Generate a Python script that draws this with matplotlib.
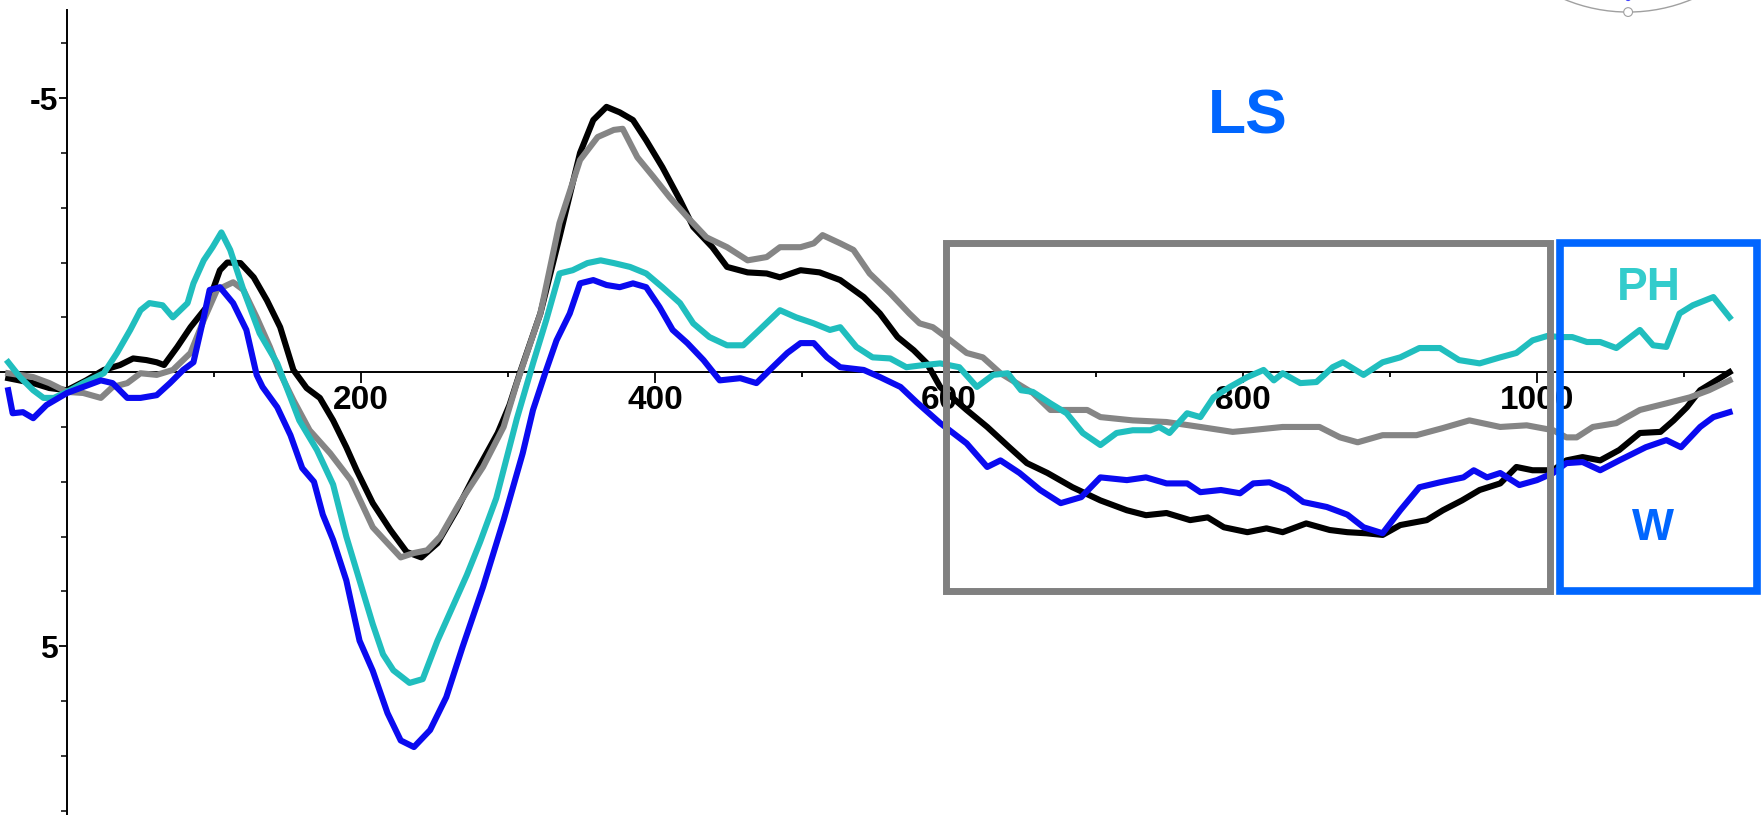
import matplotlib
matplotlib.use("Agg")
import matplotlib.pyplot as plt
from matplotlib.patches import Rectangle, Ellipse

plt.rcParams['font.family'] = ['Liberation Sans', 'DejaVu Sans']

# ---------------- data (time in ms, amplitude in microvolts, negative up) ----------------
t_black = [-40, -23, -12, 0, 13, 25, 36, 45, 54, 61, 66, 75, 84, 95, 104, 109, 118, 127, 136, 145,
           154, 163, 172, 181, 190, 197, 208, 220, 231, 241, 252, 265, 279, 293, 301, 308, 322, 335,
           349, 358, 367, 376, 385, 394, 405, 417, 426, 439, 449, 463, 476, 485, 499, 512, 526, 542,
           553, 565, 576, 585, 594, 612, 626, 641, 653, 667, 684, 703, 721, 734, 748, 764, 776, 787,
           803, 816, 827, 843, 859, 871, 884, 895, 907, 925, 936, 949, 961, 975, 986, 997, 1011,
           1020, 1031, 1043, 1056, 1070, 1084, 1093, 1102, 1111, 1122, 1131]
v_black = [0.11, 0.2, 0.29, 0.33, 0.15, -0.04, -0.13, -0.25, -0.22, -0.18, -0.13, -0.46, -0.82, -1.19,
           -1.86, -2.0, -1.99, -1.73, -1.31, -0.82, -0.04, 0.29, 0.47, 0.88, 1.37, 1.79, 2.39, 2.88,
           3.28, 3.38, 3.12, 2.52, 1.79, 1.11, 0.6, 0.02, -1.07, -2.46, -4.0, -4.6, -4.84, -4.74,
           -4.6, -4.23, -3.74, -3.14, -2.65, -2.28, -1.92, -1.82, -1.8, -1.73, -1.86, -1.82, -1.68,
           -1.37, -1.07, -0.64, -0.4, -0.16, 0.27, 0.69, 1.0, 1.37, 1.66, 1.84, 2.1, 2.34, 2.52, 2.61,
           2.57, 2.7, 2.65, 2.83, 2.92, 2.85, 2.92, 2.76, 2.88, 2.92, 2.94, 2.97, 2.79, 2.7, 2.52,
           2.34, 2.15, 2.03, 1.73, 1.79, 1.79, 1.61, 1.55, 1.61, 1.42, 1.11, 1.09, 0.88, 0.64, 0.33,
           0.15, 0.0]

t_gray = [-40, -23, -12, 0, 11, 23, 31, 41, 50, 61, 72, 84, 93, 102, 113, 120, 129, 138, 145, 154,
          165, 179, 193, 208, 218, 227, 236, 245, 254, 267, 283, 297, 306, 322, 335, 349, 361, 372,
          378, 388, 399, 410, 422, 435, 449, 463, 476, 485, 499, 508, 514, 526, 535, 546, 560, 573,
          580, 589, 601, 612, 623, 635, 646, 657, 669, 680, 694, 703, 725, 748, 771, 793, 805, 827,
          839, 852, 866, 878, 895, 918, 936, 954, 975, 993, 1011, 1020, 1027, 1038, 1054, 1070,
          1088, 1104, 1117, 1131]
v_gray = [0.02, 0.09, 0.2, 0.36, 0.38, 0.47, 0.27, 0.2, 0.02, 0.05, -0.04, -0.35, -0.95, -1.5, -1.64,
          -1.5, -1.0, -0.46, 0.02, 0.51, 1.06, 1.48, 1.97, 2.83, 3.12, 3.38, 3.3, 3.25, 3.0, 2.39,
          1.73, 1.0, 0.2, -1.07, -2.72, -3.87, -4.29, -4.42, -4.44, -3.92, -3.56, -3.19, -2.83,
          -2.46, -2.28, -2.04, -2.1, -2.28, -2.28, -2.35, -2.5, -2.35, -2.23, -1.8, -1.44, -1.07,
          -0.89, -0.82, -0.58, -0.35, -0.27, 0.02, 0.2, 0.38, 0.69, 0.69, 0.69, 0.82, 0.88, 0.91,
          1.0, 1.09, 1.06, 1.0, 1.0, 1.0, 1.19, 1.28, 1.15, 1.15, 1.02, 0.88, 1.0, 0.97, 1.06, 1.19,
          1.19, 1.0, 0.93, 0.69, 0.57, 0.46, 0.33, 0.15]

t_teal = [-40, -32, -23, -16, -9, 0, 11, 25, 34, 43, 50, 56, 65, 72, 82, 86, 93, 99, 105, 111, 120,
          131, 143, 152, 158, 170, 181, 190, 199, 208, 215, 222, 233, 242, 252, 262, 272, 281, 292,
          306, 317, 326, 335, 344, 354, 363, 372, 383, 394, 405, 417, 426, 437, 449, 460, 471, 485,
          496, 508, 519, 526, 537, 548, 560, 571, 580, 594, 607, 619, 630, 640, 649, 657, 669, 680,
          691, 703, 714, 725, 737, 743, 750, 762, 771, 780, 791, 803, 814, 821, 827, 839, 850, 861,
          868, 882, 895, 907, 920, 934, 947, 961, 975, 986, 997, 1007, 1016, 1024, 1034, 1043,
          1054, 1070, 1079, 1088, 1097, 1106, 1120, 1131]
v_teal = [-0.18, 0.09, 0.33, 0.47, 0.47, 0.36, 0.2, 0.02, -0.35, -0.77, -1.13, -1.26, -1.22, -1.0,
          -1.26, -1.62, -2.04, -2.28, -2.55, -2.23, -1.5, -0.71, -0.16, 0.46, 0.88, 1.42, 2.05, 3.0,
          3.8, 4.6, 5.15, 5.44, 5.67, 5.6, 4.9, 4.3, 3.7, 3.1, 2.3, 0.85, -0.16, -0.95, -1.8, -1.86,
          -1.99, -2.04, -1.99, -1.92, -1.8, -1.55, -1.26, -0.89, -0.64, -0.49, -0.49, -0.77, -1.13,
          -1.0, -0.89, -0.77, -0.82, -0.46, -0.27, -0.25, -0.09, -0.12, -0.16, -0.09, 0.27, 0.05,
          0.02, 0.33, 0.36, 0.57, 0.75, 1.11, 1.33, 1.11, 1.06, 1.06, 1.0, 1.11, 0.75, 0.82, 0.46,
          0.27, 0.09, -0.04, 0.15, 0.02, 0.2, 0.18, -0.09, -0.18, 0.05, -0.18, -0.27, -0.44, -0.44,
          -0.22, -0.16, -0.27, -0.35, -0.58, -0.66, -0.64, -0.64, -0.55, -0.55, -0.44, -0.77,
          -0.49, -0.46, -1.07, -1.22, -1.37, -1.0]

t_blue = [-40, -37, -30, -23, -14, 0, 11, 23, 31, 41, 50, 61, 70, 79, 86, 93, 97, 104, 113, 122, 129,
          133, 143, 152, 160, 168, 174, 181, 190, 199, 208, 218, 227, 236, 247, 258, 269, 283, 297,
          310, 317, 326, 333, 342, 349, 358, 367, 376, 385, 394, 403, 412, 422, 433, 444, 458, 469,
          480, 490, 499, 508, 517, 526, 542, 553, 567, 578, 594, 612, 626, 635, 648, 662, 676, 690,
          703, 721, 734, 748, 762, 771, 785, 798, 807, 818, 830, 841, 857, 871, 882, 895, 907, 920,
          934, 950, 957, 966, 975, 988, 1000, 1011, 1020, 1031, 1043, 1056, 1074, 1088, 1098, 1111,
          1120, 1131]
v_blue = [0.33, 0.75, 0.73, 0.84, 0.6, 0.38, 0.27, 0.15, 0.2, 0.47, 0.47, 0.42, 0.2, -0.04, -0.18,
          -1.0, -1.5, -1.55, -1.26, -0.77, 0.05, 0.27, 0.64, 1.15, 1.75, 2.0, 2.6, 3.06, 3.8, 4.9,
          5.45, 6.22, 6.72, 6.84, 6.53, 5.93, 5.02, 3.92, 2.7, 1.48, 0.69, -0.04, -0.58, -1.07,
          -1.62, -1.68, -1.59, -1.55, -1.62, -1.55, -1.19, -0.77, -0.53, -0.22, 0.15, 0.11, 0.2,
          -0.09, -0.35, -0.53, -0.53, -0.27, -0.09, -0.04, 0.09, 0.27, 0.55, 0.93, 1.3, 1.73, 1.61,
          1.84, 2.15, 2.39, 2.28, 1.92, 1.97, 1.92, 2.03, 2.03, 2.19, 2.15, 2.21, 2.03, 2.01, 2.15,
          2.37, 2.46, 2.6, 2.83, 2.94, 2.52, 2.1, 2.01, 1.92, 1.79, 1.92, 1.84, 2.06, 1.97, 1.84,
          1.66, 1.64, 1.79, 1.61, 1.37, 1.24, 1.37, 1.0, 0.82, 0.73]

x_ticks_major = [200, 400, 600, 800, 1000]
x_ticks_minor = [100, 300, 500, 700, 900, 1100]
y_ticks_major = [-5, 5]
y_ticks_minor = [-6, -4, -3, -2, -1, 1, 2, 3, 4, 6, 7, 8]

win_ls = (598, 1009, -2.35, 4.0)     # grey analysis window (ms range, uV range)
win_ph = (1016, 1150, -2.35, 4.0)    # blue label box

# ---------------- figure ----------------
fig = plt.figure(figsize=(17.61, 8.15), dpi=100)
ax = fig.add_axes([0, 0, 1, 1])
ax.set_xlim(-45.6, 1152.4)
ax.set_ylim(8.08, -6.79)

LW = 4.4
ax.plot(t_black, v_black, color='#000000', lw=LW, solid_joinstyle='round', zorder=3)
ax.plot(t_gray, v_gray, color='#858585', lw=LW, solid_joinstyle='round', zorder=3.1)
ax.plot(t_teal, v_teal, color='#20BEBE', lw=LW, solid_joinstyle='round', zorder=3.2)
ax.plot(t_blue, v_blue, color='#0A0AF0', lw=LW, solid_joinstyle='round', zorder=3.3)

for s in ['top', 'right']:
    ax.spines[s].set_visible(False)
ax.spines['left'].set_position(('data', 0))
ax.spines['bottom'].set_position(('data', 0))
ax.spines['left'].set_bounds(-6.6, 8.1)
ax.spines['bottom'].set_bounds(-46, 1131)
ax.spines['left'].set_linewidth(1.4)
ax.spines['bottom'].set_linewidth(1.4)

ax.set_xticks(x_ticks_major)
ax.set_xticks(x_ticks_minor, minor=True)
ax.set_xticklabels([str(v) for v in x_ticks_major])
ax.set_yticks(y_ticks_major)
ax.set_yticks(y_ticks_minor, minor=True)
ax.set_yticklabels(['-5', '5'])

ax.tick_params(axis='x', which='major', direction='out', length=8, width=1.3, pad=1.5,
               labelsize=24)
ax.tick_params(axis='x', which='minor', direction='out', length=3.6, width=1.3)
ax.tick_params(axis='y', which='major', direction='out', length=6, width=1.3, pad=0.5,
               labelsize=23)
ax.tick_params(axis='y', which='minor', direction='out', length=4, width=1.1)
for lab in ax.get_xticklabels() + ax.get_yticklabels():
    lab.set_fontweight('bold')

# boxes
ax.add_patch(Rectangle((win_ls[0], win_ls[2]), win_ls[1] - win_ls[0], win_ls[3] - win_ls[2],
                       fill=False, edgecolor='#808080', lw=5, zorder=10, clip_on=False))
ax.add_patch(Rectangle((win_ph[0], win_ph[2]), win_ph[1] - win_ph[0], win_ph[3] - win_ph[2],
                       fill=False, edgecolor='#0066FF', lw=5.5, zorder=10, clip_on=False))

# labels
ax.text(803, -4.36, 'LS', color='#0066FF', fontsize=45, fontweight='bold',
        ha='center', va='baseline', zorder=11)
ax.text(1076, -1.31, 'PH', color='#33CCCC', fontsize=33, fontweight='bold',
        ha='center', va='baseline', zorder=11)
ax.text(1079, 3.07, 'W', color='#0066FF', fontsize=32, fontweight='bold',
        ha='center', va='baseline', zorder=11)

# partial electrode head map (top-right corner)
ax.add_patch(Ellipse((1062, -9.6), 226, 6.06, fill=False, edgecolor='#a0a0a0', lw=1.0,
                     clip_on=False, zorder=2))
ax.add_patch(Ellipse((1062, -6.57), 6, 0.16, fill=True, facecolor='white', edgecolor='#a0a0a0',
                     lw=0.8, clip_on=False, zorder=2.1))
ax.add_patch(Ellipse((1062, -6.82), 4, 0.1, facecolor='#4040ff', edgecolor='none',
                     clip_on=False, zorder=2.1))

fig.savefig('out.png', dpi=100)
